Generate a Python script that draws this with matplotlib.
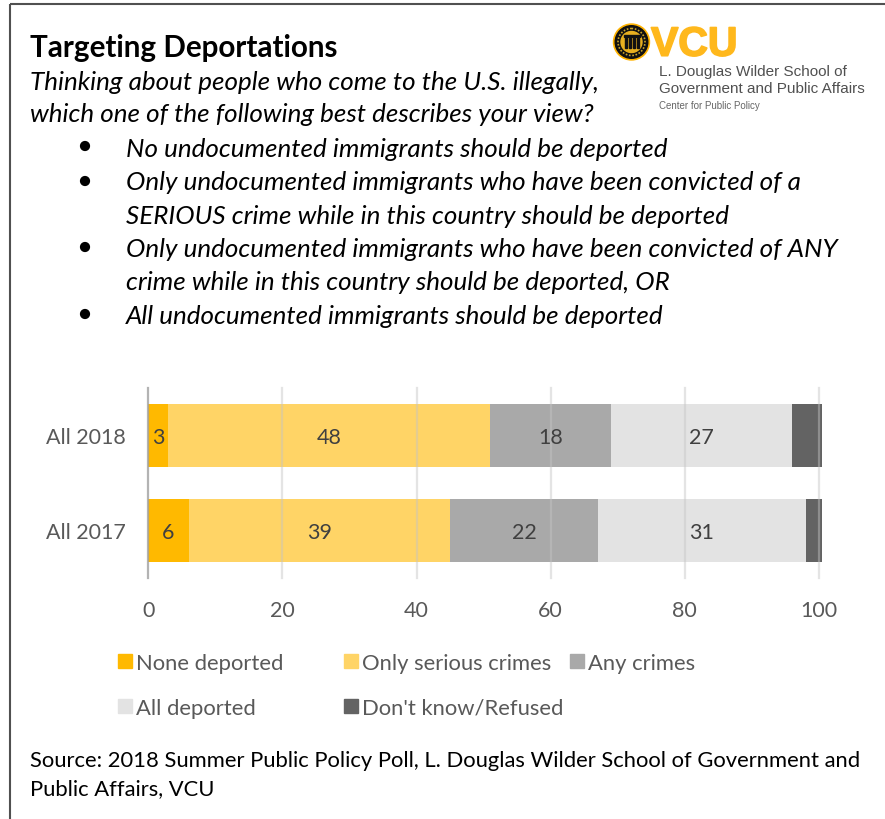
import matplotlib
matplotlib.use("Agg")
import matplotlib.pyplot as plt
import matplotlib.patheffects as pe
from matplotlib.patches import Circle, Rectangle

# Poll results, percent
years = ["All 2018", "All 2017"]
none_deported = [3, 6]
only_serious = [48, 39]
any_crimes = [18, 22]
all_deported = [27, 31]
dont_know = [4.4, 2.4]

series_names = ["None deported", "Only serious crimes", "Any crimes", "All deported", "Don't know/Refused"]
series_colors = ["#FFB900", "#FFD466", "#A9A9A9", "#E3E3E3", "#636363"]
x_ticks = [0, 20, 40, 60, 80, 100]

title = "Targeting Deportations"
question = ["Thinking about people who come to the U.S. illegally,",
            "which one of the following best describes your view?"]
options = [
    ("No undocumented immigrants should be deported", True),
    ("Only undocumented immigrants who have been convicted of a", True),
    ("SERIOUS crime while in this country should be deported", False),
    ("Only undocumented immigrants who have been convicted of ANY", True),
    ("crime while in this country should be deported, OR", False),
    ("All undocumented immigrants should be deported", True),
]
source = ["Source: 2018 Summer Public Policy Poll, L. Douglas Wilder School of Government and",
          "Public Affairs, VCU"]

W, H = 885, 820
plt.rcParams["font.family"] = ["Lato", "DejaVu Sans"]

fig = plt.figure(figsize=(W / 100, H / 100), dpi=100)

# page overlay in pixel coordinates, y pointing down
page = fig.add_axes([0, 0, 1, 1])
page.set_xlim(0, W)
page.set_ylim(H, 0)
page.axis("off")

page.add_patch(Rectangle((10, 5), W, H, fill=False, ec="#505050", lw=1.5))

page.text(30, 56.5, title, fontsize=21.3, fontweight="bold", color="black", va="baseline")
for y, line in zip([89.5, 122], question):
    page.text(30, y, line, fontsize=18.7, style="italic", color="black", va="baseline")

option_y = [157, 190.5, 223.5, 257, 290, 324]
bullet_y = [147, 182, None, 248, None, 315]
for y, by, (line, bullet) in zip(option_y, bullet_y, options):
    page.text(126, y, line, fontsize=18.7, style="italic", color="black", va="baseline")
    if bullet:
        page.add_patch(Circle((85, by), 4.4, color="black"))

for y, line in zip([766.7, 795.5], source):
    page.text(30, y, line, fontsize=15.85, color="black", va="baseline")

# logo block
page.add_patch(Circle((631.5, 43), 18, color="#FFB300"))
page.add_patch(Circle((631.5, 43), 16.3, color="#111111"))
page.add_patch(Circle((631.5, 43), 13.5, fill=False, ec="#C9A227", lw=1.2, ls=(0, (1, 1))))
page.add_patch(Circle((631.5, 43), 10.5, color="#E8B020"))
for cx in [625.5, 629.5, 633.5, 637.5]:
    page.add_patch(Rectangle((cx - 1, 39), 2, 10, color="#111111"))
page.add_patch(Rectangle((623.5, 36), 16, 2, color="#111111"))
page.text(651, 56.7, "VCU", fontsize=29.5, fontweight="bold", family="Liberation Sans",
          color="#FFB81C", va="baseline",
          path_effects=[pe.withStroke(linewidth=1.2, foreground="#FFB81C")])
page.text(659, 75.7, "L. Douglas Wilder School of", fontsize=11, family="Liberation Sans",
          color="#505050", va="baseline")
page.text(659, 93, "Government and Public Affairs", fontsize=11, family="Liberation Sans",
          color="#505050", va="baseline")
page.text(659, 108.7, "Center for Public Policy", fontsize=7, family="Liberation Sans",
          color="#666666", va="baseline")

# stacked bars
ax = fig.add_axes([148.3 / W, 1 - 579 / H, (819 - 148.3) / W, 190 / H])
series = [none_deported, only_serious, any_crimes, all_deported, dont_know]
y_pos = [1, 0]
left = [0, 0]
for name, vals, color in zip(series_names, series, series_colors):
    bars = ax.barh(y_pos, vals, height=0.667, left=left, color=color, label=name,
                   zorder=2, clip_on=False)
    if name != "Don't know/Refused":
        labels = ax.bar_label(bars, labels=[str(v) for v in vals], label_type="center",
                              fontsize=15.5, color="#404040", zorder=4)
        for lab in labels:
            lab.set_verticalalignment("center_baseline")
    left = [a + b for a, b in zip(left, vals)]

ax.set_xlim(0, 100)
ax.set_ylim(-0.5, 1.5)
ax.set_yticks(y_pos)
ax.set_yticklabels(years)
ax.set_xticks(x_ticks)
ax.tick_params(axis="both", length=0, labelsize=15.5, labelcolor="#595959")
ax.tick_params(axis="x", pad=16)
ax.tick_params(axis="y", pad=16)
for spine in ax.spines.values():
    spine.set_visible(False)

# gridlines sit over the bars
for t in x_ticks:
    ax.axvline(t, color="#A0A0A0" if t == 0 else "#C4C4C4",
               alpha=0.8 if t == 0 else 0.45, lw=1.6, zorder=3, clip_on=False)

# legend laid out in two rows, keyed by pixel position
legend_x = [118, 344, 570, 118, 344]
legend_y = [662, 662, 662, 707, 707]
for name, color, lx, ly in zip(series_names, series_colors, legend_x, legend_y):
    page.add_patch(Rectangle((lx - 0.5, ly - 7), 14, 14, color=color))
    page.text(lx + 18, ly + 8, name, fontsize=15.8, color="#595959", va="baseline")

fig.savefig("out.png", dpi=100)
